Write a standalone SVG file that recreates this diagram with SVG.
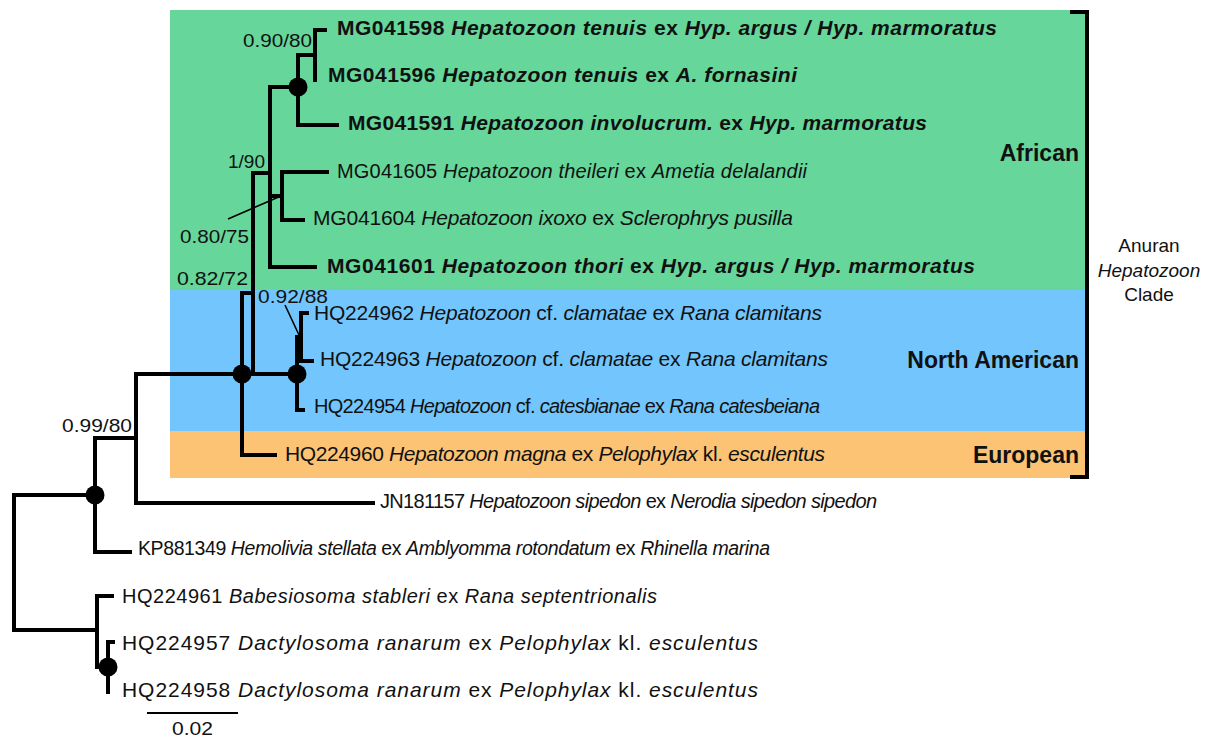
<svg xmlns="http://www.w3.org/2000/svg" width="1213" height="740" viewBox="0 0 1213 740">
<style>
.br{fill:none;stroke:#000;stroke-width:4;stroke-linecap:square;stroke-linejoin:miter}
.ld{fill:none;stroke:#000;stroke-width:1.6}
.dot{fill:#000}
text{font-family:"Liberation Sans",Arial,sans-serif;fill:#111}
.lb{font-size:21px}
.sm{font-size:20px}
.xs{font-size:19.5px}
.bd{font-weight:bold}
.bs{font-size:19px}
.cl{font-size:23px;font-weight:bold;text-anchor:end}
.an{font-size:19px;text-anchor:middle}
.i{font-style:italic}
</style>
<rect x="170" y="10" width="916" height="280" fill="#66d69a"/>
<rect x="170" y="290" width="916" height="141" fill="#72c6fd"/>
<rect x="170" y="431" width="916" height="47" fill="#fcc374"/>
<g id="clade-bracket">
<path class="br" d="M1072,12 H1087 V477 H1072" stroke-linecap="butt"/>
<text class="cl" x="1079" y="161">African</text>
<text class="cl" x="1079" y="368">North American</text>
<text class="cl" x="1079" y="463">European</text>
<text class="an" x="1149" y="252">Anuran</text>
<text class="an i" x="1149" y="277">Hepatozoon</text>
<text class="an" x="1149" y="301">Clade</text>
</g>
<g id="connectors">
<path class="br" d="M14,495 V630 M14,495 H95 M14,630 H97"/>
<path class="br" d="M95,438 V552 M95,438 H136 M95,552 H130"/>
<path class="br" d="M136,374 V503 M136,374 H242 M136,503 H373"/>
<path class="br" d="M242,293 V455 M242,455 H275 M242,293 H253"/>
<path class="br" d="M253,173 V374 M253,173 H270 M253,374 H297"/>
<path class="br" d="M270,87 V267 M270,87 H298 M270,267 H315 M270,196 H282"/>
<path class="br" d="M282,172 V220 M282,172 H327 M282,220 H303"/>
<path class="br" d="M298,55 V125 M298,55 H315 M298,125 H337"/>
<path class="br" d="M315,30 V80 M315,30 H325"/>
<path class="br" d="M297,337 V410 M297,410 H303 M297,337 H301"/>
<path class="br" d="M301,313 V361 M301,313 H307 M301,361 H312"/>
<path class="br" d="M97,596 V667 M97,596 H112 M97,667 H108"/>
<path class="br" d="M108,642 V692 M108,642 H113"/>
<path class="ld" d="M228,219 L281,196"/>
<path class="ld" d="M285,305 L299,335"/>
</g>
<g id="n-root-split"><circle class="dot" cx="95" cy="495" r="9.5"/><text class="bs" x="62" y="432" textLength="70" lengthAdjust="spacingAndGlyphs">0.99/80</text></g>
<g id="n-anuran"><circle class="dot" cx="242" cy="374" r="9.5"/><text class="bs" x="177" y="285" textLength="71" lengthAdjust="spacingAndGlyphs">0.82/72</text></g>
<g id="n-african"><text class="bs" x="228" y="168" textLength="37" lengthAdjust="spacingAndGlyphs">1/90</text></g>
<g id="n-tenuis"><circle class="dot" cx="298" cy="87" r="9.5"/><text class="bs" x="243" y="47" textLength="69" lengthAdjust="spacingAndGlyphs">0.90/80</text></g>
<g id="n-theileri"><text class="bs" x="180" y="243" textLength="69" lengthAdjust="spacingAndGlyphs">0.80/75</text></g>
<g id="n-northam"><circle class="dot" cx="297" cy="374" r="9.5"/><text class="bs" x="258" y="303" textLength="70" lengthAdjust="spacingAndGlyphs">0.92/88</text></g>
<g id="n-dactylosoma"><circle class="dot" cx="108" cy="667" r="9.5"/></g>
<g id="t-MG041598"><text class="lb bd" x="337" y="35" textLength="660" lengthAdjust="spacing">MG041598 <tspan class="i">Hepatozoon tenuis</tspan> ex <tspan class="i">Hyp. argus / Hyp. marmoratus</tspan></text></g>
<g id="t-MG041596"><text class="lb bd" x="328" y="82" textLength="469" lengthAdjust="spacing">MG041596 <tspan class="i">Hepatozoon tenuis</tspan> ex <tspan class="i">A. fornasini</tspan></text></g>
<g id="t-MG041591"><text class="lb bd" x="348" y="130" textLength="579" lengthAdjust="spacing">MG041591 <tspan class="i">Hepatozoon involucrum.</tspan> ex <tspan class="i">Hyp. marmoratus</tspan></text></g>
<g id="t-MG041605"><text class="sm" x="337" y="178" textLength="470" lengthAdjust="spacing">MG041605 <tspan class="i">Hepatozoon theileri</tspan> ex <tspan class="i">Ametia delalandii</tspan></text></g>
<g id="t-MG041604"><text class="lb" x="313" y="225" textLength="480" lengthAdjust="spacing">MG041604 <tspan class="i">Hepatozoon ixoxo</tspan> ex <tspan class="i">Sclerophrys pusilla</tspan></text></g>
<g id="t-MG041601"><text class="lb bd" x="327" y="273" textLength="648" lengthAdjust="spacing">MG041601 <tspan class="i">Hepatozoon thori</tspan> ex <tspan class="i">Hyp. argus / Hyp. marmoratus</tspan></text></g>
<g id="t-HQ224962"><text class="lb" x="314" y="320" textLength="508" lengthAdjust="spacing">HQ224962 <tspan class="i">Hepatozoon</tspan> cf. <tspan class="i">clamatae</tspan> ex <tspan class="i">Rana clamitans</tspan></text></g>
<g id="t-HQ224963"><text class="lb" x="320" y="366" textLength="508" lengthAdjust="spacing">HQ224963 <tspan class="i">Hepatozoon</tspan> cf. <tspan class="i">clamatae</tspan> ex <tspan class="i">Rana clamitans</tspan></text></g>
<g id="t-HQ224954"><text class="sm" x="314" y="413" textLength="506" lengthAdjust="spacing">HQ224954 <tspan class="i">Hepatozoon</tspan> cf. <tspan class="i">catesbianae</tspan> ex <tspan class="i">Rana catesbeiana</tspan></text></g>
<g id="t-HQ224960"><text class="lb" x="285" y="461" textLength="540" lengthAdjust="spacing">HQ224960 <tspan class="i">Hepatozoon magna</tspan> ex <tspan class="i">Pelophylax</tspan> kl. <tspan class="i">esculentus</tspan></text></g>
<g id="t-JN181157"><text class="sm" x="380" y="508" textLength="497" lengthAdjust="spacing">JN181157 <tspan class="i">Hepatozoon sipedon</tspan> ex <tspan class="i">Nerodia sipedon sipedon</tspan></text></g>
<g id="t-KP881349"><text class="xs" x="138" y="555" textLength="632" lengthAdjust="spacing">KP881349 <tspan class="i">Hemolivia stellata</tspan> ex <tspan class="i">Amblyomma rotondatum</tspan> ex <tspan class="i">Rhinella marina</tspan></text></g>
<g id="t-HQ224961"><text class="sm" x="122" y="603" textLength="535" lengthAdjust="spacing">HQ224961 <tspan class="i">Babesiosoma stableri</tspan> ex <tspan class="i">Rana septentrionalis</tspan></text></g>
<g id="t-HQ224957"><text class="lb" x="122" y="650" textLength="636" lengthAdjust="spacing">HQ224957 <tspan class="i">Dactylosoma ranarum</tspan> ex <tspan class="i">Pelophylax</tspan> kl. <tspan class="i">esculentus</tspan></text></g>
<g id="t-HQ224958"><text class="lb" x="122" y="697" textLength="636" lengthAdjust="spacing">HQ224958 <tspan class="i">Dactylosoma ranarum</tspan> ex <tspan class="i">Pelophylax</tspan> kl. <tspan class="i">esculentus</tspan></text></g>
<g id="scale-bar">
<path d="M147,713 H238" stroke="#000" stroke-width="2"/>
<text class="bs" x="172" y="735" textLength="41" lengthAdjust="spacingAndGlyphs">0.02</text>
</g>
</svg>
